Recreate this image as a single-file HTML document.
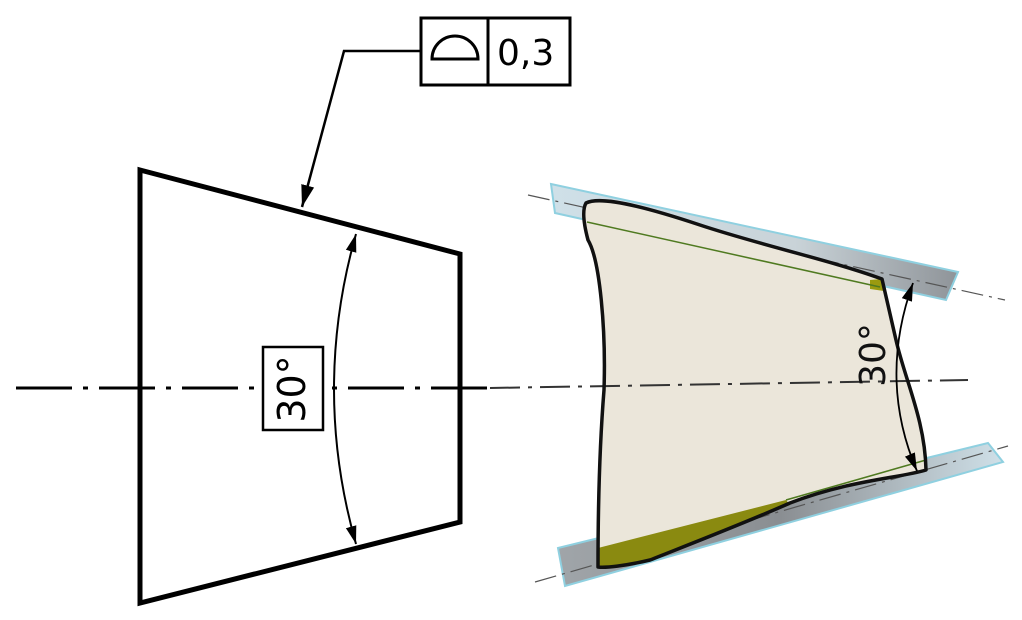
<!DOCTYPE html>
<html><head><meta charset="utf-8"><style>
html,body{margin:0;padding:0;background:#fff;width:1022px;height:620px;overflow:hidden}
svg{display:block}
text{font-family:"DejaVu Sans","Liberation Sans",sans-serif}
</style></head><body>
<svg width="1022" height="620" viewBox="0 0 1022 620" xmlns="http://www.w3.org/2000/svg">
<defs>
<marker id="ah" viewBox="0 0 10 10" refX="10" refY="5" markerWidth="18" markerHeight="18" markerUnits="userSpaceOnUse" orient="auto-start-reverse"><path d="M0,2 L10,5 L0,8 z" fill="#000"/></marker>
<marker id="ah2" viewBox="0 0 10 10" refX="10" refY="5" markerWidth="22" markerHeight="22" markerUnits="userSpaceOnUse" orient="auto"><path d="M0,2 L10,5 L0,8 z" fill="#000"/></marker>
<linearGradient id="bandT" x1="0" y1="0" x2="1" y2="0"><stop offset="0" stop-color="#cfe0e8"/><stop offset="0.6" stop-color="#c9d3d8"/><stop offset="1" stop-color="#8f9499"/></linearGradient>
<linearGradient id="bandB" x1="0" y1="0" x2="1" y2="0"><stop offset="0" stop-color="#a0a5a9"/><stop offset="0.5" stop-color="#8a8e92"/><stop offset="1" stop-color="#cfe0e8"/></linearGradient>
</defs>

<line x1="16" y1="388" x2="490" y2="388" stroke="#000" stroke-width="3" stroke-dasharray="56 11 5 11"/>
<polygon points="140,170 460,254 460,522 140,603" fill="none" stroke="#000" stroke-width="5" stroke-linejoin="miter"/>
<rect x="263" y="347" width="60" height="83" fill="#fff" stroke="#000" stroke-width="2.5"/>
<text transform="translate(305,389) rotate(-90)" text-anchor="middle" font-size="38" fill="#000">30°</text>
<path d="M356,234 Q312,389 356,544" fill="none" stroke="#000" stroke-width="2" marker-start="url(#ah)" marker-end="url(#ah)"/>

<rect x="421" y="18" width="149" height="67" fill="#fff" stroke="#000" stroke-width="3"/>
<line x1="488" y1="18" x2="488" y2="85" stroke="#000" stroke-width="3"/>
<path d="M432,59 A22,22 0 0 1 478,59 Z" fill="none" stroke="#000" stroke-width="3"/>
<text x="497" y="65" font-size="36" fill="#000">0,3</text>
<polyline points="421,51 344,51 302,207" fill="none" stroke="#000" stroke-width="2.5" marker-end="url(#ah2)"/>

<polygon points="551,184 958,272 946,300 555,213" fill="url(#bandT)" stroke="#8fd0e0" stroke-width="2"/>
<polygon points="558,548 988,443 1003,462 565,586" fill="url(#bandB)" stroke="#8fd0e0" stroke-width="2"/>
<line x1="528" y1="195" x2="1005" y2="300" stroke="#555" stroke-width="1.2" stroke-dasharray="22 6 3 6"/>
<line x1="535" y1="582" x2="1008" y2="446" stroke="#555" stroke-width="1.2" stroke-dasharray="22 6 3 6"/>
<path d="M586,203 C600,196 640,205 700,225 C760,245 830,260 882,279 L896,340 C905,380 925,420 926,470 C900,478 850,480 790,503 C740,525 680,548 650,560 C625,566 605,568 598,567 C598,500 600,440 604,390 C606,330 600,260 588,240 C584,225 582,210 586,203 Z" fill="#ebe6da" stroke="none"/>
<polygon points="598,548 786,500 790,505 650,560 598,568" fill="#8a8a10"/>
<polygon points="870,280 882,279 884,291 870,289" fill="#9a9a10"/>
<line x1="587" y1="222" x2="880" y2="287" stroke="#4f7a20" stroke-width="1.5"/>
<line x1="786" y1="500" x2="926" y2="460" stroke="#4f7a20" stroke-width="1.5"/>
<line x1="490" y1="388" x2="968" y2="380" stroke="#333" stroke-width="2" stroke-dasharray="30 8 4 8"/>
<path d="M586,203 C600,196 640,205 700,225 C760,245 830,260 882,279 L896,340 C905,380 925,420 926,470 C900,478 850,480 790,503 C740,525 680,548 650,560 C625,566 605,568 598,567 C598,500 600,440 604,390 C606,330 600,260 588,240 C584,225 582,210 586,203 Z" fill="none" stroke="#111" stroke-width="3.5" stroke-linejoin="round"/>
<text transform="translate(885,355) rotate(-90)" text-anchor="middle" font-size="36" fill="#111">30°</text>
<path d="M913,283 Q878,380 917,471" fill="none" stroke="#000" stroke-width="1.8" marker-start="url(#ah)" marker-end="url(#ah)"/>
</svg>
</body></html>
